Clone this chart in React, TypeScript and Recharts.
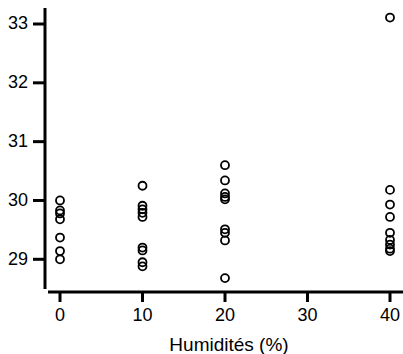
import React from "react";
import { ScatterChart, Scatter, XAxis, YAxis, ReferenceLine } from "recharts";

// températures relevées pour chaque taux d'humidité
const humidites = [0, 10, 20, 40];
const temp0 = [30.0, 29.83, 29.78, 29.68, 29.37, 29.14, 29.0];
const temp10 = [30.25, 29.91, 29.85, 29.79, 29.72, 29.2, 29.15, 28.95, 28.88];
const temp20 = [30.6, 30.34, 30.12, 30.06, 30.02, 29.51, 29.45, 29.32, 28.68];
const temp40 = [33.11, 30.18, 29.93, 29.72, 29.45, 29.33, 29.25, 29.18, 29.14];

const xTicks = [0, 10, 20, 30, 40];
const yTicks = [29, 30, 31, 32, 33];

const groupes = [temp0, temp10, temp20, temp40];
const points = groupes.flatMap((vals, i) => vals.map((v) => ({ x: humidites[i], y: v })));

const FONT = "'Liberation Sans', Arial, sans-serif";

const Rond = (props: any) => (
  <circle cx={props.cx} cy={props.cy} r={4} fill="none" stroke="#000" strokeWidth={1.8} />
);

export default function App() {
  const xMin = -1.818;
  const xMax = 41.576;
  const yMin = 28.444;
  const yMax = 33.272;

  return (
    <div style={{ position: "absolute", left: 0, top: 0, background: "#fff" }}>
      <ScatterChart width={403} height={354} margin={{ top: 8, right: 0, bottom: 0, left: 0 }}>
        <XAxis
          type="number"
          dataKey="x"
          domain={[xMin, xMax]}
          ticks={xTicks}
          allowDataOverflow
          axisLine={false}
          tickLine={{ stroke: "#000", strokeWidth: 3 }}
          tickSize={10}
          tickMargin={6}
          height={62}
          tick={{ fill: "#000", fontSize: 18, fontFamily: FONT }}
          label={{
            value: "Humidités (%)",
            position: "insideBottom",
            offset: 3,
            dx: 5,
            fill: "#000",
            fontSize: 19,
            fontFamily: FONT,
          }}
        />
        <YAxis
          type="number"
          dataKey="y"
          domain={[yMin, yMax]}
          ticks={yTicks}
          allowDataOverflow
          axisLine={false}
          tickLine={{ stroke: "#000", strokeWidth: 3 }}
          tickSize={12}
          tickMargin={5}
          width={45}
          tick={{ fill: "#000", fontSize: 18, fontFamily: FONT, dy: -1 }}
        />
        <ReferenceLine
          segment={[
            { x: -1.45, y: yMin },
            { x: xMax, y: yMin },
          ]}
          stroke="#000"
          strokeWidth={3}
          ifOverflow="visible"
        />
        <ReferenceLine
          segment={[
            { x: xMin, y: 28.495 },
            { x: xMin, y: yMax },
          ]}
          stroke="#000"
          strokeWidth={3}
          ifOverflow="visible"
        />
        <Scatter data={points} shape={Rond} isAnimationActive={false} />
      </ScatterChart>
    </div>
  );
}
